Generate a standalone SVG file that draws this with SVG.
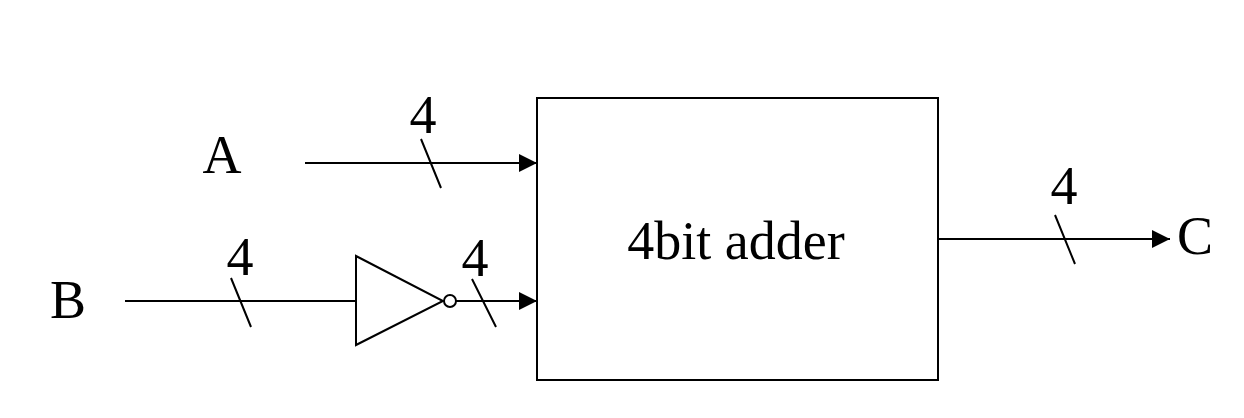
<svg xmlns="http://www.w3.org/2000/svg" width="1244" height="418" viewBox="0 0 1244 418">
<style>
text{font-family:"Liberation Serif","Times New Roman",serif;font-size:54px;fill:#000}
.l{fill:none;stroke:#000;stroke-width:2}
.s{fill:#fff;stroke:#000;stroke-width:2}
</style>
<defs><marker id="a" markerUnits="userSpaceOnUse" markerWidth="18" markerHeight="18" refX="18" refY="9" orient="auto"><path d="M0 0L18 9L0 18Z" fill="#000"/></marker></defs>
<rect width="1244" height="418" fill="#fff"/>
<g id="connectors">
<path class="l" d="M305 163H537" marker-end="url(#a)"/>
<path class="l" d="M125 301H356"/>
<path class="l" d="M456 301H537" marker-end="url(#a)"/>
<path class="l" d="M938 239H1170" marker-end="url(#a)"/>
<path class="l" d="M421 139L441 188M231 278L251 327M472 279L496 327M1055 215L1075 264"/>
</g>
<g id="adder"><rect class="s" x="537" y="98" width="401" height="282"/><text x="736" y="259" text-anchor="middle">4bit adder</text></g>
<g id="inverter"><path class="s" d="M356 256L443 301L356 345Z"/><circle class="s" cx="450" cy="301" r="6"/></g>
<g id="labelA"><text x="222" y="173" text-anchor="middle">A</text></g>
<g id="labelB"><text x="68" y="318" text-anchor="middle">B</text></g>
<g id="labelC"><text x="1195" y="254" text-anchor="middle">C</text></g>
<g id="width1"><text x="423" y="133" text-anchor="middle">4</text></g>
<g id="width2"><text x="240" y="275" text-anchor="middle">4</text></g>
<g id="width3"><text x="475" y="276" text-anchor="middle">4</text></g>
<g id="width4"><text x="1064" y="204" text-anchor="middle">4</text></g>
</svg>
